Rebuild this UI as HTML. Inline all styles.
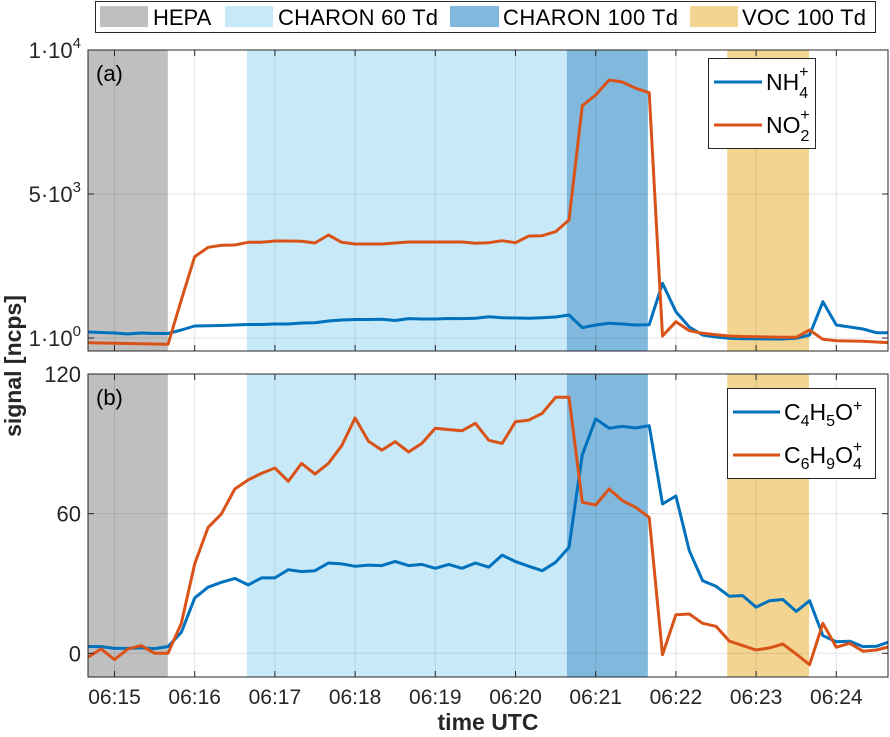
<!DOCTYPE html>
<html><head><meta charset="utf-8"><style>
body{margin:0;background:#fff;}
svg{display:block;font-family:"Liberation Sans",sans-serif;}
</style></head><body>
<svg id="chart" width="890" height="737"></svg>
<script>
const minuteLabels=["06:15","06:16","06:17","06:18","06:19","06:20","06:21","06:22","06:23","06:24"];
const periodNames=["HEPA","CHARON 60 Td","CHARON 100 Td","VOC 100 Td"];
const periodStart=[-0.34,1.65,5.64,7.64];
const periodEnd=[0.665,5.64,6.65,8.66];
const nh4=[208,191,174,139,174,156,156,278,417,424,434,451,469,469,486,486,521,531,590,625,642,642,649,608,672,660,660,677,672,684,740,705,694,684,705,729,799,358,451,510,486,451,462,1899,913,382,104,35,-10,-24,-24,-35,-35,-10,104,1260,451,382,312,184,184];
const no2=[-163,-174,-184,-191,-198,-208,-219,1319,2823,3149,3219,3229,3323,3323,3368,3368,3357,3298,3576,3323,3264,3264,3264,3298,3333,3333,3333,3333,3333,3288,3309,3378,3309,3541,3552,3691,4097,8066,8437,8958,8888,8670,8517,69,566,253,163,115,69,52,45,35,24,24,278,-45,-94,-104,-115,-139,-163];
const c4h5o=[2.9,2.9,2.1,2.1,2.3,2.0,2.9,9.0,23.8,28.4,30.5,32.2,29.4,32.4,32.4,35.9,35.1,35.5,38.8,38.4,37.4,37.9,37.7,39.5,37.7,38.2,36.5,38.2,36.5,38.8,37.0,42.2,39.4,37.4,35.5,39.1,45.5,85.3,100.7,96.7,97.5,96.8,97.8,64.2,67.6,44.1,31.2,28.8,24.5,24.8,19.8,22.6,23.1,18.0,22.6,7.6,5.0,5.2,2.9,3.0,5.0];
const c6h9o4=[-1.7,1.9,-2.7,1.9,3.3,0,0,12.9,38.4,54.1,59.9,70.6,74.5,77.3,79.6,73.9,81.6,77.0,81.6,89.2,101.1,91.1,87.3,90.9,86.5,90.2,96.7,96.1,95.6,98.8,91.5,90.2,99.5,100.2,103.1,110,110,64.9,63.7,70.6,65.6,62.7,58.4,-0.6,16.6,16.9,12.9,11.6,5.2,3.3,1.4,2.3,4.0,-0.3,-4.9,12.9,2.6,4.3,0.9,1.4,2.9];
const ticksA=[0,5000,10000];
const ticksB=[0,60,120];

const NS="http://www.w3.org/2000/svg";
const svg=document.getElementById('chart');
const L=88,R=888;
const xS=t=>114.5+t*80.2;
const tOf=k=>k/6-1/3;
const yA=v=>338-v*288/10000;
const yB=v=>653.3-v*279.3/120;
const panels=[{top:50,bot:351,y:yA},{top:374,bot:677,y:yB}];
const colors=["#bfbfbf","#c8eaf8","#80b8de","#f3d591"];
function mk(tag,attrs,parent){const e=document.createElementNS(NS,tag);for(const k in attrs)e.setAttribute(k,attrs[k]);(parent||svg).appendChild(e);return e;}
const defs=mk('defs',{});
panels.forEach((p,i)=>{const c=mk('clipPath',{id:'clip'+i},defs);mk('rect',{x:L,y:p.top,width:R-L,height:p.bot-p.top},c);});

function drawPanel(pi,series,ticks,tickLabels,panelLabel){
  const p=panels[pi];
  const g=mk('g',{'clip-path':'url(#clip'+pi+')'});
  
  
  periodNames.forEach((n,i)=>{
    const r=mk('rect',{x:xS(periodStart[i]),y:p.top,width:xS(periodEnd[i])-xS(periodStart[i]),height:p.bot-p.top,fill:colors[i]},g);
    
    
  });
  minuteLabels.forEach((m,i)=>{mk('line',{x1:xS(i),x2:xS(i),y1:p.top,y2:p.bot,stroke:'rgba(0,0,0,0.1)','stroke-width':1},g);});
  ticks.forEach(v=>{mk('line',{x1:L,x2:R,y1:p.y(v),y2:p.y(v),stroke:'rgba(0,0,0,0.1)','stroke-width':1},g);});
  series.forEach(s=>{
    const d=s.data.map((v,k)=>(k?'L':'M')+xS(tOf(k)).toFixed(1)+','+p.y(v).toFixed(1)).join('');
    const pa=mk('path',{d:d,fill:'none',stroke:s.color,'stroke-width':3,'stroke-linejoin':'round'},g);
    
    
  });
  const fr=mk('rect',{x:L,y:p.top,width:R-L,height:p.bot-p.top,fill:'none',stroke:'#262626','stroke-width':1});
  
  
  minuteLabels.forEach((m,i)=>{const x=xS(i);
    mk('line',{x1:x,x2:x,y1:p.bot,y2:p.bot-6,stroke:'#262626'});
    mk('line',{x1:x,x2:x,y1:p.top,y2:p.top+6,stroke:'#262626'});});
  ticks.forEach((v,i)=>{const y=p.y(v);
    mk('line',{x1:L,x2:L+6,y1:y,y2:y,stroke:'#262626'});
    mk('line',{x1:R,x2:R-6,y1:y,y2:y,stroke:'#262626'});
    const t=mk('text',{x:L-7,y:y+8,'text-anchor':'end','font-size':22,fill:'#262626'});
    
    
    t.innerHTML=tickLabels[i];});
  const pl=mk('text',{x:L+8,y:p.top+31,'font-size':22,fill:'#000'});
  
  
  pl.textContent='('+panelLabel+')';
}
drawPanel(0,[{name:'nh4',data:nh4,color:'#0072BD'},{name:'no2',data:no2,color:'#D95319'}],ticksA,
 ['1·10<tspan dy="-10" font-size="15">0</tspan>','5·10<tspan dy="-10" font-size="15">3</tspan>','1·10<tspan dy="-10" font-size="15">4</tspan>'],'a');
drawPanel(1,[{name:'c4h5o',data:c4h5o,color:'#0072BD'},{name:'c6h9o4',data:c6h9o4,color:'#D95319'}],ticksB,
 ticksB.map(String),'b');

minuteLabels.forEach((m,i)=>{
  const t=mk('text',{x:xS(i),y:704,'text-anchor':'middle','font-size':21,fill:'#262626'});
  
  
  t.textContent=m;});
</script>
<svg style="position:absolute;left:0;top:0" width="890" height="737">
 <g>
  <rect x="95.5" y="1.5" width="780" height="31" fill="#fff" stroke="#262626"/>
  <rect x="100" y="6" width="48" height="21" fill="#bfbfbf"/>
  <text x="153" y="25" font-size="22" font-family="Liberation Sans, sans-serif">HEPA</text>
  <rect x="225" y="6" width="48" height="21" fill="#c8eaf8"/>
  <text x="278" y="25" font-size="22" font-family="Liberation Sans, sans-serif" textLength="160">CHARON 60 Td</text>
  <rect x="450" y="6" width="49" height="21" fill="#80b8de"/>
  <text x="503" y="25" font-size="22" font-family="Liberation Sans, sans-serif" textLength="175">CHARON 100 Td</text>
  <rect x="690" y="6" width="48" height="21" fill="#f3d591"/>
  <text x="742" y="25" font-size="22" font-family="Liberation Sans, sans-serif" textLength="124">VOC 100 Td</text>
 </g>
 <g font-family="Liberation Sans, sans-serif">
  <rect x="708.5" y="58.5" width="107" height="90" fill="#fff" stroke="#262626"/>
  <line x1="714" x2="762" y1="82" y2="82" stroke="#0072BD" stroke-width="3"/>
  <text x="766" y="90" font-size="23">NH<tspan font-size="16" dy="8">4</tspan><tspan font-size="16" dx="-9" dy="-21">+</tspan></text>
  <line x1="714" x2="762" y1="125" y2="125" stroke="#D95319" stroke-width="3"/>
  <text x="766" y="133" font-size="23">NO<tspan font-size="16" dy="8">2</tspan><tspan font-size="16" dx="-9" dy="-21">+</tspan></text>
 </g>
 <g font-family="Liberation Sans, sans-serif">
  <rect x="727.5" y="388.5" width="148" height="90" fill="#fff" stroke="#262626"/>
  <line x1="733" x2="780" y1="412" y2="412" stroke="#0072BD" stroke-width="3"/>
  <text x="784" y="420" font-size="23">C<tspan font-size="16" dy="6">4</tspan><tspan dy="-6">H</tspan><tspan font-size="16" dy="6">5</tspan><tspan dy="-6">O</tspan><tspan font-size="16" dy="-9">+</tspan></text>
  <line x1="733" x2="780" y1="455" y2="455" stroke="#D95319" stroke-width="3"/>
  <text x="784" y="463" font-size="23">C<tspan font-size="16" dy="6">6</tspan><tspan dy="-6">H</tspan><tspan font-size="16" dy="6">9</tspan><tspan dy="-6">O</tspan><tspan font-size="16" dy="6">4</tspan><tspan font-size="16" dx="-9" dy="-17">+</tspan></text>
 </g>
 <text x="0" y="0" transform="translate(21,366) rotate(-90)" text-anchor="middle" font-size="23" font-weight="bold" fill="#262626" font-family="Liberation Sans, sans-serif">signal [ncps]</text>
 <text x="488" y="730" text-anchor="middle" font-size="23" font-weight="bold" fill="#262626" font-family="Liberation Sans, sans-serif">time UTC</text>
</svg>
</body></html>
